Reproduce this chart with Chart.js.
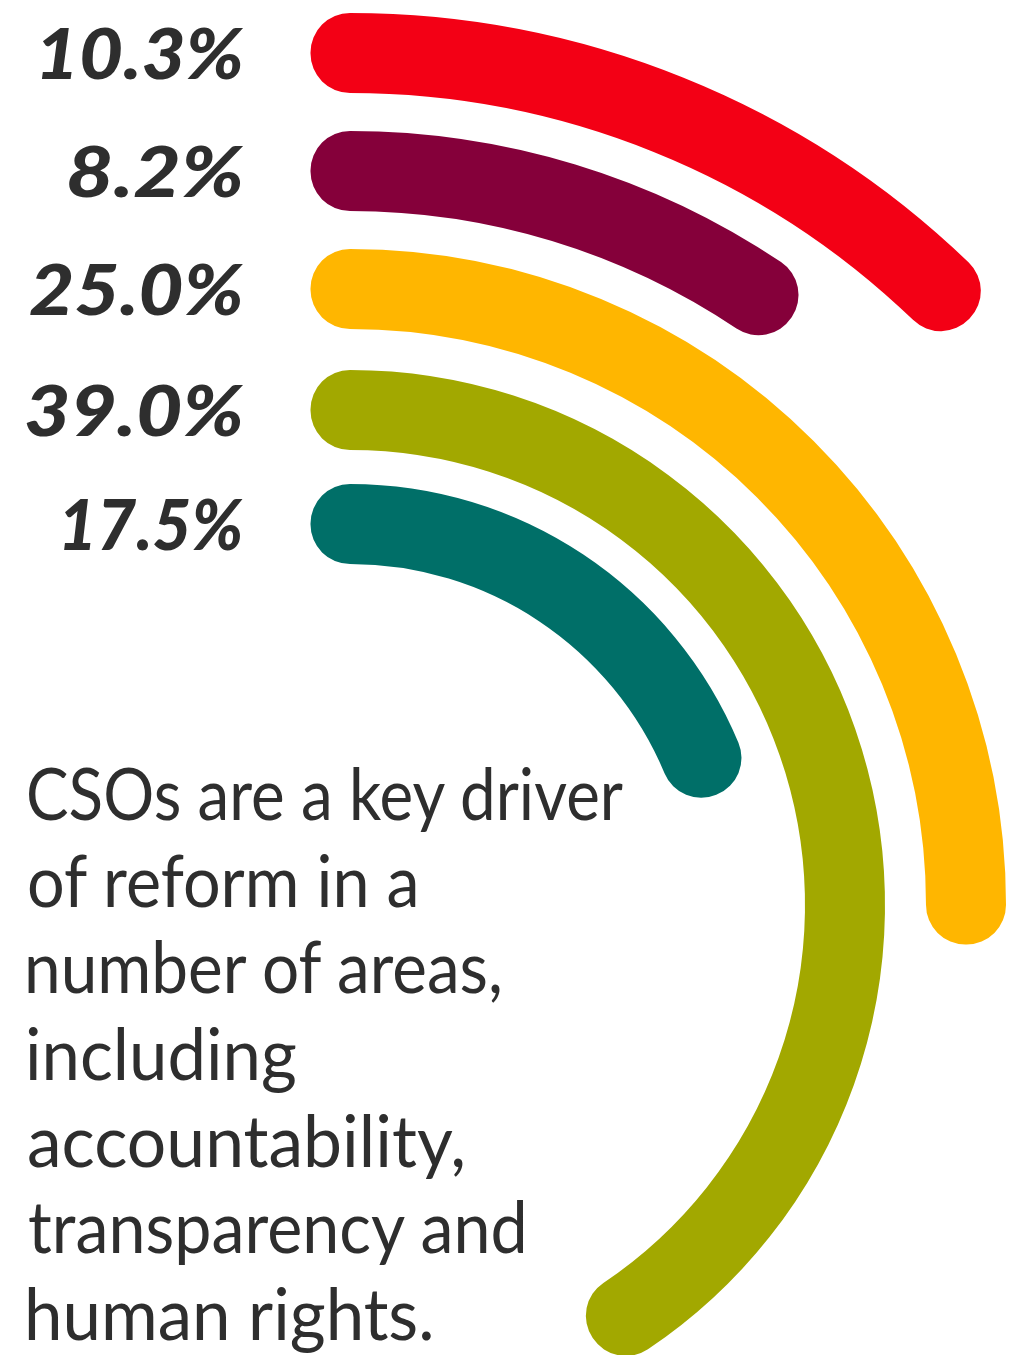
<!DOCTYPE html>
<html>
<head>
<meta charset="utf-8">
<title>CSOs as drivers of reform</title>
<script src="https://cdn.jsdelivr.net/npm/chart.js@4.4.1/dist/chart.umd.min.js"></script>
<style>
  html, body { margin: 0; padding: 0; background: #fff; }
  body { width: 1010px; height: 1355px; position: relative; overflow: hidden; }
  #wrap { position: absolute; left: -310px; top: 0; }
  .pct, .line { position: absolute; white-space: nowrap; color: #2e2e2e; transform-origin: 0 0; }
  .pct { font-family: Lato, "Open Sans", sans-serif; font-weight: 900; font-style: italic; }
  .line { font-family: Lato, "Open Sans", sans-serif; font-weight: 400; }
</style>
</head>
<body>
<div id="wrap"><canvas id="rings" width="1320" height="1810"></canvas></div>
<div id="texts"></div>
<script>
// printed figures, outer ring first
const shares = [10.3, 8.2, 25.0, 39.0, 17.5];
// how far each arc actually runs in the picture, % of a full turn
const arcShares = [12.2, 9.4, 25.0, 40.6, 18.7];
const ringColors = ["#f30015", "#85003a", "#ffb600", "#a2a800", "#006f68"];
const captionLines = [
  "CSOs are a key driver",
  "of reform in a",
  "number of areas,",
  "including",
  "accountability,",
  "transparency and",
  "human rights."
];

// layout bits (not data)
const CLEAR = "rgba(0,0,0,0)";
const ringGaps = [117, 117, 120, 113]; // empty space between ring centre lines
const canvasLeft = -310, canvasTop = 0;
const pctWidths = [202, 175, 213, 217, 179];            // ink width of each label
const lineWidths = [596, 388, 474, 267, 434, 496, 402]; // ink width of each caption line

const datasets = [];
arcShares.forEach((v, i) => {
  datasets.push({
    data: [v, 100 - v],
    backgroundColor: [ringColors[i], CLEAR],
    borderColor: [ringColors[i], CLEAR],
    borderWidth: [79, 0],
    borderJoinStyle: "round",
    weight: 1
  });
  if (i < ringGaps.length) {
    datasets.push({ data: [100], backgroundColor: CLEAR, borderWidth: 0, weight: ringGaps[i] });
  }
});

const chart = new Chart(document.getElementById("rings"), {
  type: "doughnut",
  data: { labels: ["share", "rest"], datasets: datasets },
  options: {
    responsive: false,
    animation: false,
    events: [],
    radius: 852.5,
    cutout: (380.5 / 852.5 * 100) + "%",
    rotation: 0,
    circumference: 360,
    plugins: { legend: { display: false }, tooltip: { enabled: false } }
  }
});

// text placement helpers
const mctx = document.createElement("canvas").getContext("2d");
function measure(font, text) {
  mctx.font = font;
  return mctx.measureText(text);
}
function addText(cls, text, size, font, baseline, x, width, alignRight) {
  const m = measure(font, text);
  const asc = m.fontBoundingBoxAscent, desc = m.fontBoundingBoxDescent;
  const scale = width / (m.actualBoundingBoxLeft + m.actualBoundingBoxRight);
  const el = document.createElement("div");
  el.className = cls;
  el.textContent = text;
  el.style.fontSize = size + "px";
  el.style.lineHeight = size + "px";
  el.style.top = (baseline - ((size - asc - desc) / 2 + asc)) + "px";
  const left = alignRight ? x - scale * m.actualBoundingBoxRight : x + scale * m.actualBoundingBoxLeft;
  el.style.left = left + "px";
  el.style.transform = "scaleX(" + scale + ")";
  document.getElementById("texts").appendChild(el);
}

// percentage labels, centred on the start of each ring
const pctSize = 71;
const pctFont = "italic 900 " + pctSize + "px Lato";
shares.forEach((v, i) => {
  const arc = chart.getDatasetMeta(i * 2).data[0];
  const rMid = (arc.innerRadius + arc.outerRadius) / 2;
  const cy = canvasTop + arc.y - rMid;
  const text = v.toFixed(1) + "%";
  const m = measure(pctFont, text);
  const baseline = cy + (m.actualBoundingBoxAscent - m.actualBoundingBoxDescent) / 2;
  addText("pct", text, pctSize, pctFont, baseline, 243, pctWidths[i], true);
});

// caption
const capSize = 71;
const capFont = "400 " + capSize + "px Lato";
captionLines.forEach((t, k) => {
  addText("line", t, capSize, capFont, 820 + k * 86.67, 29, lineWidths[k], false);
});
</script>
</body>
</html>
